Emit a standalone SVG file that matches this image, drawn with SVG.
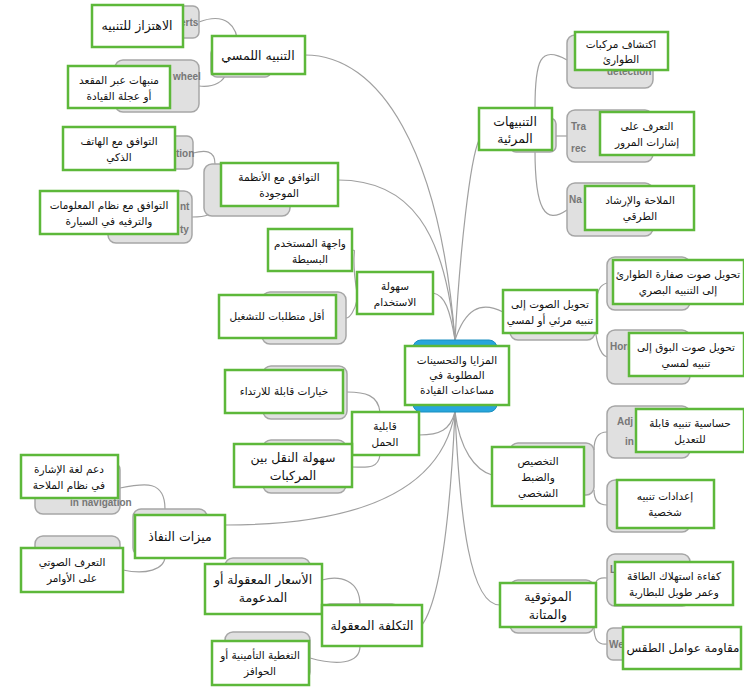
<svg xmlns="http://www.w3.org/2000/svg" width="744" height="692" viewBox="0 0 744 692">
<style>
.g{fill:#e0e0e0;stroke:#a6a6a6;stroke-width:1.5}
.w{fill:#fff;stroke:#5db83a;stroke-width:2.5}
.c{fill:#27a6dc;stroke:#1b8fc0}
.t{font-family:"DejaVu Sans",sans-serif;font-size:10.5px;fill:#111;text-anchor:middle}
.b{font-size:12.5px}
.e{font-family:"Liberation Sans",sans-serif;font-size:10px;font-weight:bold;fill:#777}
#links path{fill:none;stroke:#a0a0a0;stroke-width:1.2}
</style>
<rect width="744" height="692" fill="#fff"/>
<g id="links">
<path d="M455,340 C440,150 380,55 305,55"/>
<path d="M455,340 C445,230 410,180 338,180"/>
<path d="M455,340 C450,310 445,295 433,293"/>
<path d="M455,340 C460,250 470,160 479,140"/>
<path d="M455,340 C465,310 480,300 503,312"/>
<path d="M455,412 C450,430 440,435 419,435"/>
<path d="M455,412 C440,500 340,525 225,525"/>
<path d="M455,412 C450,520 440,600 422,625"/>
<path d="M455,412 C460,450 475,470 492,475"/>
<path d="M455,412 C460,520 470,605 500,605"/>
<path d="M238,47 C238,25 225,12 199,22"/>
<path d="M225,74 C225,80 215,88 199,86"/>
<path d="M215,164 C215,150 205,150 193,153"/>
<path d="M215,205 C215,215 205,217 192,217"/>
<path d="M357,293 C350,250 358,250 352,250"/>
<path d="M357,300 C355,310 350,318 346,318"/>
<path d="M380,412 C378,395 365,392 347,392"/>
<path d="M380,455 C378,470 365,467 352,467"/>
<path d="M165,509 C165,480 145,483 120,488"/>
<path d="M165,556 C165,570 145,575 123,570"/>
<path d="M360,605 C360,580 340,575 322,580"/>
<path d="M360,646 C360,665 335,665 310,658"/>
<path d="M535,108 C535,60 540,45 567,60"/>
<path d="M552,136 L567,136"/>
<path d="M535,150 C535,210 545,225 567,210"/>
<path d="M597,300 C597,290 600,285 607,283"/>
<path d="M595,320 C595,340 600,355 607,357"/>
<path d="M594,450 C594,438 598,432 607,432"/>
<path d="M594,490 C594,500 598,505 607,505"/>
<path d="M596,583 C596,580 600,577 607,578"/>
<path d="M594,627 C594,640 598,645 607,644"/>
</g>
<g id="center"><rect class="c" x="413" y="340" width="84" height="72" rx="8"/><rect class="w" x="405" y="346" width="104" height="59"/><text class="t"><tspan x="457" y="364">المزايا والتحسينات</tspan><tspan x="457" y="379">المطلوبة في</tspan><tspan x="457" y="394">مساعدات القيادة</tspan></text></g>
<g id="n1"><rect class="g" x="100" y="6" width="99" height="32" rx="6"/><text class="e" x="180" y="26">erts</text><rect class="w" x="92" y="5" width="91" height="42"/><text class="t b" x="137" y="30">الاهتزاز للتنبيه</text></g>
<g id="n2"><rect class="g" x="211" y="47" width="60" height="30" rx="6"/><rect class="w" x="212" y="36" width="93" height="38"/><text class="t b" x="258" y="60">التنبيه اللمسي</text></g>
<g id="n3"><rect class="g" x="115" y="60" width="84" height="52" rx="8"/><text class="e" x="173" y="80">wheel</text><rect class="w" x="68" y="66" width="102" height="42"/><text class="t"><tspan x="119" y="84">منبهات عبر المقعد</tspan><tspan x="119" y="100">أو عجلة القيادة</tspan></text></g>
<g id="n4"><rect class="g" x="140" y="136" width="53" height="33" rx="6"/><text class="e" x="176" y="157">tion</text><rect class="w" x="63" y="127" width="112" height="43"/><text class="t"><tspan x="119" y="145">التوافق مع الهاتف</tspan><tspan x="119" y="161">الذكي</tspan></text></g>
<g id="n5"><rect class="g" x="204" y="164" width="86" height="52" rx="8"/><rect class="w" x="221" y="163" width="117" height="43"/><text class="t"><tspan x="279" y="181">التوافق مع الأنظمة</tspan><tspan x="279" y="197">الموجودة</tspan></text></g>
<g id="n6"><rect class="g" x="108" y="191" width="84" height="52" rx="8"/><text class="e" x="180" y="210">nt</text><text class="e" x="180" y="233">ty</text><rect class="w" x="40" y="191" width="138" height="43"/><text class="t"><tspan x="109" y="209">التوافق مع نظام المعلومات</tspan><tspan x="109" y="225">والترفيه في السيارة</tspan></text></g>
<g id="n7"><rect class="w" x="268" y="229" width="84" height="42"/><text class="t"><tspan x="310" y="247">واجهة المستخدم</tspan><tspan x="310" y="263">البسيطة</tspan></text></g>
<g id="n8"><rect class="w" x="357" y="272" width="76" height="42"/><text class="t"><tspan x="395" y="290">سهولة</tspan><tspan x="395" y="306">الاستخدام</tspan></text></g>
<g id="n9"><rect class="g" x="262" y="292" width="84" height="52" rx="8"/><rect class="w" x="219" y="295" width="117" height="43"/><text class="t" x="277" y="320">أقل متطلبات للتشغيل</text></g>
<g id="n10"><rect class="g" x="263" y="366" width="84" height="53" rx="8"/><rect class="w" x="225" y="370" width="118" height="43"/><text class="t" x="284" y="395">خيارات قابلة للارتداء</text></g>
<g id="n11"><rect class="w" x="352" y="412" width="67" height="43"/><text class="t"><tspan x="385" y="430">قابلية</tspan><tspan x="385" y="446">الحمل</tspan></text></g>
<g id="n12"><rect class="g" x="263" y="440" width="83" height="53" rx="8"/><rect class="w" x="234" y="444" width="118" height="43"/><text class="t b"><tspan x="293" y="462">سهولة النقل بين</tspan><tspan x="293" y="480">المركبات</tspan></text></g>
<g id="n13"><rect class="g" x="35" y="462" width="85" height="52" rx="8"/><text class="e" x="70" y="506">in navigation</text><rect class="w" x="21" y="455" width="97" height="43"/><text class="t"><tspan x="69" y="473">دعم لغة الإشارة</tspan><tspan x="69" y="489">في نظام الملاحة</tspan></text></g>
<g id="n14"><rect class="g" x="133" y="509" width="74" height="47" rx="8"/><rect class="w" x="135" y="515" width="90" height="43"/><text class="t b" x="180" y="541">ميزات النفاذ</text></g>
<g id="n15"><rect class="g" x="35" y="536" width="85" height="44" rx="8"/><rect class="w" x="21" y="548" width="102" height="44"/><text class="t"><tspan x="72" y="566">التعرف الصوتي</tspan><tspan x="72" y="582">على الأوامر</tspan></text></g>
<g id="n16"><rect class="g" x="225" y="558" width="85" height="42" rx="8"/><rect class="w" x="205" y="564" width="117" height="50"/><text class="t b"><tspan x="263" y="584">الأسعار المعقولة أو</tspan><tspan x="263" y="602">المدعومة</tspan></text></g>
<g id="n17"><rect class="g" x="322" y="604" width="78" height="41" rx="8"/><rect class="w" x="322" y="605" width="100" height="41"/><text class="t b" x="372" y="630">التكلفة المعقولة</text></g>
<g id="n18"><rect class="g" x="225" y="632" width="85" height="48" rx="8"/><rect class="w" x="212" y="641" width="97" height="44"/><text class="t"><tspan x="260" y="659">التغطية التأمينية أو</tspan><tspan x="260" y="675">الحوافز</tspan></text></g>
<g id="n19"><rect class="g" x="567" y="35" width="86" height="53" rx="8"/><text class="e" x="607" y="75">detection</text><rect class="w" x="575" y="32" width="93" height="38"/><text class="t"><tspan x="621" y="48">اكتشاف مركبات</tspan><tspan x="621" y="63">الطوارئ</tspan></text></g>
<g id="n20"><rect class="g" x="510" y="118" width="46" height="34" rx="6"/><rect class="w" x="479" y="108" width="73" height="42"/><text class="t b"><tspan x="515" y="126">التنبيهات</tspan><tspan x="515" y="143">المرئية</tspan></text></g>
<g id="n21"><rect class="g" x="567" y="110" width="86" height="52" rx="8"/><text class="e" x="571" y="130">Tra</text><text class="e" x="571" y="152">rec</text><rect class="w" x="600" y="112" width="94" height="43"/><text class="t"><tspan x="647" y="130">التعرف على</tspan><tspan x="647" y="146">إشارات المرور</tspan></text></g>
<g id="n22"><rect class="g" x="567" y="183" width="86" height="53" rx="8"/><text class="e" x="569" y="203">Na</text><rect class="w" x="585" y="186" width="109" height="44"/><text class="t"><tspan x="640" y="204">الملاحة والإرشاد</tspan><tspan x="640" y="220">الطرقي</tspan></text></g>
<g id="n23"><rect class="g" x="607" y="257" width="83" height="53" rx="8"/><rect class="w" x="613" y="260" width="131" height="44"/><text class="t"><tspan x="678" y="278">تحويل صوت صفارة الطوارئ</tspan><tspan x="678" y="294">إلى التنبيه البصري</tspan></text></g>
<g id="n24"><rect class="g" x="510" y="300" width="85" height="40" rx="8"/><rect class="w" x="503" y="290" width="94" height="43"/><text class="t"><tspan x="550" y="308">تحويل الصوت إلى</tspan><tspan x="550" y="324">تنبيه مرئي أو لمسي</tspan></text></g>
<g id="n25"><rect class="g" x="607" y="330" width="83" height="54" rx="8"/><text class="e" x="610" y="350">Horn</text><rect class="w" x="629" y="333" width="115" height="43"/><text class="t"><tspan x="686" y="351">تحويل صوت البوق إلى</tspan><tspan x="686" y="367">تنبيه لمسي</tspan></text></g>
<g id="n26"><rect class="g" x="607" y="406" width="83" height="52" rx="8"/><text class="e" x="617" y="425">Adj</text><text class="e" x="625" y="445">in</text><rect class="w" x="636" y="409" width="108" height="43"/><text class="t"><tspan x="690" y="427">حساسية تنبيه قابلة</tspan><tspan x="690" y="443">للتعديل</tspan></text></g>
<g id="n27"><rect class="g" x="510" y="443" width="84" height="52" rx="8"/><rect class="w" x="492" y="447" width="92" height="59"/><text class="t"><tspan x="538" y="465">التخصيص</tspan><tspan x="538" y="481">والضبط</tspan><tspan x="538" y="497">الشخصي</tspan></text></g>
<g id="n28"><rect class="g" x="607" y="480" width="83" height="52" rx="8"/><rect class="w" x="617" y="480" width="97" height="48"/><text class="t"><tspan x="665" y="500">إعدادات تنبيه</tspan><tspan x="665" y="516">شخصية</tspan></text></g>
<g id="n29"><rect class="g" x="607" y="554" width="83" height="52" rx="8"/><text class="e" x="610" y="573">L</text><rect class="w" x="615" y="562" width="118" height="43"/><text class="t"><tspan x="674" y="580">كفاءة استهلاك الطاقة</tspan><tspan x="674" y="596">وعمر طويل للبطارية</tspan></text></g>
<g id="n30"><rect class="g" x="510" y="580" width="84" height="53" rx="8"/><rect class="w" x="500" y="583" width="96" height="44"/><text class="t b"><tspan x="548" y="601">الموثوقية</tspan><tspan x="548" y="619">والمتانة</tspan></text></g>
<g id="n31"><rect class="g" x="607" y="628" width="83" height="32" rx="6"/><text class="e" x="609" y="648">Wea</text><rect class="w" x="623" y="627" width="118" height="42"/><text class="t" style="font-size:12px" x="683" y="652">مقاومة عوامل الطقس</text></g>
</svg>
